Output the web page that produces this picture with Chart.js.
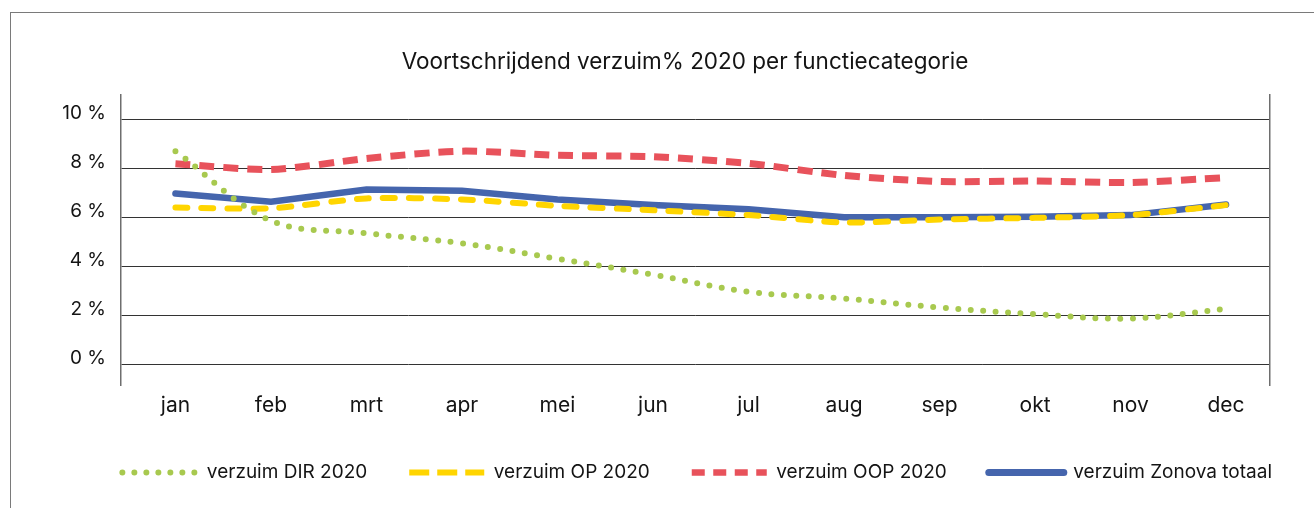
<!DOCTYPE html>
<html>
<head>
<meta charset="utf-8">
<script src="https://cdn.jsdelivr.net/npm/chart.js@4.4.1/dist/chart.umd.min.js"></script>
<style>
  html, body { margin: 0; padding: 0; background: #fff; }
  #wrap { position: relative; width: 1314px; height: 508px; overflow: hidden; }
  #frame { position: absolute; left: 10px; top: 12px; width: 1400px; height: 600px; border: 1.5px solid #7a7a7a; box-sizing: border-box; }
  canvas { position: absolute; left: 0; top: 0; }
</style>
</head>
<body>
<div id="wrap">
  <div id="frame"></div>
  <canvas id="c" width="1314" height="508"></canvas>
</div>
<script>
const months = ['jan','feb','mrt','apr','mei','jun','jul','aug','sep','okt','nov','dec'];
const verzuimDIR = [8.69, 5.85, 5.34, 4.93, 4.30, 3.65, 2.95, 2.68, 2.31, 2.04, 1.86, 2.26];
const verzuimOP = [6.39, 6.36, 6.76, 6.72, 6.46, 6.28, 6.08, 5.78, 5.90, 5.97, 6.08, 6.49];
const verzuimOOP = [8.18, 7.94, 8.39, 8.69, 8.52, 8.46, 8.19, 7.70, 7.45, 7.47, 7.41, 7.61];
const verzuimTotaal = [6.96, 6.63, 7.12, 7.07, 6.72, 6.49, 6.32, 5.99, 5.99, 6.01, 6.08, 6.51];
const yTickValues = [0, 2, 4, 6, 8, 10];
const seriesNames = ['verzuim DIR 2020', 'verzuim OP 2020', 'verzuim OOP 2020', 'verzuim Zonova totaal'];
const titleText = 'Voortschrijdend verzuim% 2020 per functiecategorie';

const FONT = "Inter, 'Liberation Sans', Arial, sans-serif";
const TXT = '#141414';
const Y_MIN = -0.85, Y_MAX = 10.98;
const X_MIN = -0.57, X_MAX = 11.46;

const toXY = (arr) => arr.map((v, i) => ({ x: i, y: v }));

const datasets = [
  { label: seriesNames[0], data: toXY(verzuimDIR), borderColor: '#a8c94f', borderWidth: 6,
    borderDash: [0, 12.5], borderCapStyle: 'round', tension: 0.35, pointRadius: 0,
    legendDash: [0, 12], legendCap: 'round', legendWidth: 6 },
  { label: seriesNames[1], data: toXY(verzuimOP), borderColor: '#ffd500', borderWidth: 6,
    borderDash: [12, 14], borderCapStyle: 'round', tension: 0.25, pointRadius: 0,
    legendDash: [20, 8], legendCap: 'butt', legendWidth: 6 },
  { label: seriesNames[2], data: toXY(verzuimOOP), borderColor: '#e8525b', borderWidth: 7,
    borderDash: [15, 9], borderCapStyle: 'butt', tension: 0.25, pointRadius: 0,
    legendDash: [13, 8.5], legendCap: 'butt', legendWidth: 6.5 },
  { label: seriesNames[3], data: toXY(verzuimTotaal), borderColor: '#4565ad', borderWidth: 6.5,
    borderCapStyle: 'round', tension: 0, pointRadius: 0,
    legendDash: [], legendCap: 'round', legendWidth: 7 }
];

new Chart(document.getElementById('c'), {
  type: 'line',
  data: { datasets },
  options: {
    responsive: false,
    animation: false,
    layout: { padding: { left: 56, right: 0, top: 0, bottom: 16 } },
    plugins: {
      title: {
        display: true, text: titleText, color: TXT,
        font: { family: FONT, size: 22.5, weight: 'normal' },
        padding: { top: 49, bottom: 19 }
      },
      legend: {
        position: 'bottom', align: 'end',
        labels: {
          usePointStyle: true, pointStyle: 'line', pointStyleWidth: 75,
          font: { family: FONT, size: 19 }, color: TXT, padding: 42,
          generateLabels: (chart) => chart.data.datasets.map((ds, i) => ({
            text: ds.label, fillStyle: ds.borderColor, strokeStyle: ds.borderColor,
            lineWidth: ds.legendWidth, lineDash: ds.legendDash, lineCap: ds.legendCap,
            pointStyle: 'line', datasetIndex: i, hidden: false, fontColor: TXT
          }))
        }
      },
      tooltip: { enabled: false }
    },
    scales: {
      x: {
        type: 'linear', min: X_MIN, max: X_MAX,
        afterBuildTicks: (s) => { s.ticks = months.map((m, i) => ({ value: i })); },
        grid: { display: false }, border: { display: false },
        ticks: { color: TXT, font: { family: FONT, size: 21 }, padding: 0, autoSkip: false,
          maxRotation: 0, callback: (v) => months[v] },
        afterFit: (s) => { s.height = 36; }
      },
      y: {
        min: Y_MIN, max: Y_MAX,
        afterBuildTicks: (s) => { s.ticks = yTickValues.map(v => ({ value: v })); },
        afterFit: (s) => { s.width = 65; },
        grid: { color: '#333', lineWidth: 1, drawTicks: false },
        border: { display: true, color: '#6e6e6e', width: 1.5 },
        ticks: { color: TXT, font: { family: FONT, size: 19 }, padding: 15, labelOffset: -6,
          callback: (v) => v + ' %' }
      },
      y2: {
        position: 'right', min: Y_MIN, max: Y_MAX,
        afterFit: (s) => { s.width = 44; },
        grid: { display: false, drawOnChartArea: false },
        border: { display: true, color: '#6e6e6e', width: 1.5 },
        ticks: { display: false }
      }
    }
  }
});
</script>
</body>
</html>
